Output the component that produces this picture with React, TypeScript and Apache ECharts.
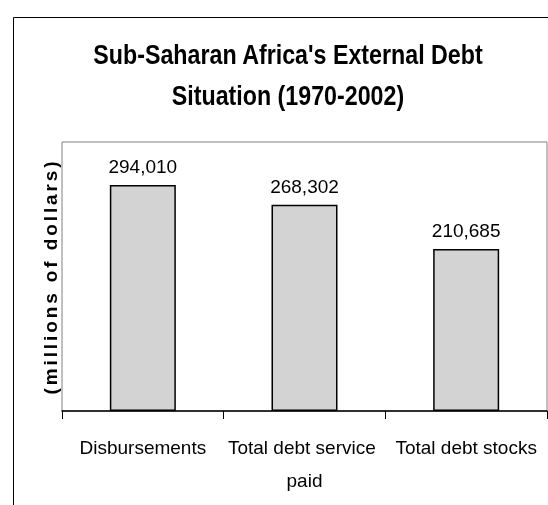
import React, { useEffect, useRef } from 'react';
import * as echarts from 'echarts';

const categories = ['Disbursements', 'Total debt service paid', 'Total debt stocks'];
const values = [294010, 268302, 210685];
const titleLines = ["Sub-Saharan Africa's External Debt", 'Situation (1970-2002)'];
const yAxisTitle = '(millions of dollars)';
const yMax = 350000;

const fmt = (v: number) => String(v).replace(/\B(?=(\d{3})+(?!\d))/g, ',');

export default function App() {
  const ref = useRef<HTMLDivElement>(null);
  useEffect(() => {
    const el = ref.current!;
    const chart = echarts.init(el, null, { renderer: 'svg' });
    const sans = "'Liberation Sans', Arial, sans-serif";
    chart.setOption({
      animation: false,
      grid: {
        left: 62, top: 142, right: 1, bottom: 94,
        containLabel: false, outerBoundsMode: 'none',
        show: true, borderColor: '#808080', borderWidth: 1, backgroundColor: 'transparent',
      },
      xAxis: {
        type: 'category',
        data: categories,
        axisLine: { lineStyle: { color: '#000', width: 1.5 } },
        axisTick: { show: true, length: 8, lineStyle: { color: '#000', width: 1 } },
        axisLabel: { fontFamily: sans, fontSize: 19, color: '#000', lineHeight: 33, margin: 20, width: 168, overflow: 'break', interval: 0, hideOverlap: false },
      },
      yAxis: {
        type: 'value',
        min: 0,
        max: yMax,
        axisLine: { show: false },
        axisTick: { show: false },
        axisLabel: { show: false },
        splitLine: { show: false },
        name: yAxisTitle,
        nameLocation: 'middle',
        nameGap: 2,
        nameTextStyle: { fontFamily: sans, fontSize: 19, fontWeight: 'bold', color: '#000' },
      },
      series: [
        {
          type: 'bar',
          data: values,
          barWidth: 66,
          itemStyle: { color: '#d3d3d3', borderColor: '#000', borderWidth: 1.5 },
          label: { show: true, position: 'top', distance: 9, fontFamily: sans, fontSize: 19, color: '#000', formatter: (p: any) => fmt(p.value) },
        },
      ],
      graphic: [
        { type: 'rect', silent: true, shape: { x: 13.5, y: 17.5, width: 700, height: 700 }, style: { fill: 'none', stroke: '#000', lineWidth: 1 } },
        {
          type: 'text',
          silent: true,
          x: 288,
          y: 34,
          scaleX: 0.83,
          style: {
            text: titleLines.join('\n'),
            fontFamily: sans,
            fontSize: 28,
            fontWeight: 'bold',
            lineHeight: 41,
            fill: '#000',
            align: 'center',
            verticalAlign: 'top',
          },
        },
      ],
    });
    const spread = () => {
      el.querySelectorAll('text').forEach((t) => {
        if (t.textContent === yAxisTitle) t.setAttribute('letter-spacing', '2.9px');
      });
    };
    spread();
    chart.on('rendered', spread);
    const timer = setTimeout(spread, 0);
    return () => {
      clearTimeout(timer);
      chart.dispose();
    };
  }, []);
  return <div ref={ref} style={{ position: 'fixed', left: 0, top: 0, width: 548, height: 505 }} />;
}
